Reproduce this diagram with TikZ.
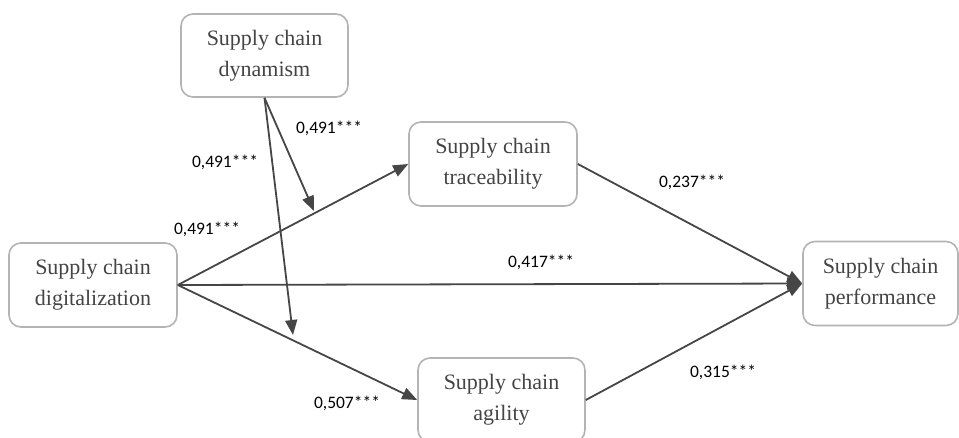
\documentclass[tikz,border=0pt]{standalone}
\usepackage{fontspec}
\setmainfont{Liberation Serif}
\newfontfamily\labelfont{Carlito}
\usetikzlibrary{arrows.meta}
\definecolor{boxline}{HTML}{B4B4B4}
\definecolor{boxtext}{HTML}{444444}
\definecolor{pathline}{HTML}{464646}
\tikzset{
  construct/.style={draw=boxline, line width=1.6pt, rounded corners=12pt,
    align=center, text=boxtext, font=\fontsize{22}{31}\selectfont,
    inner sep=0pt},
  path arrow/.style={draw=pathline, line width=1.8pt,
    -{Triangle[length=15pt,width=12pt]}},
  coef/.style={font=\labelfont\fontsize{17.5}{20}\selectfont, text=black, inner sep=0pt}
}
\begin{document}
\begin{tikzpicture}[x=1pt,y=-1pt]
\clip (0,0) rectangle (959,437);
\fill[white] (0,0) rectangle (959,437);

% constructs
\node[construct, minimum width=167pt, minimum height=83pt] (dyn) at (264.5,55.5) {Supply chain\\dynamism};
\node[construct, minimum width=168pt, minimum height=84pt] (tra) at (493,164) {Supply chain\\traceability};
\node[construct, minimum width=168pt, minimum height=84pt] (dig) at (93,285) {Supply chain\\digitalization};
\node[construct, minimum width=155pt, minimum height=84pt] (per) at (880.5,283.5) {Supply chain\\performance};
\node[construct, minimum width=167pt, minimum height=84pt] (agi) at (501.5,400) {Supply chain\\agility};

% moderation targets on the direct paths
\coordinate (modT) at (314,211);
\coordinate (modA) at (293,335);

% direct paths
\draw[path arrow] (dig.east) -- (tra.west);
\draw[path arrow] (dig.east) -- (agi.west);
\draw[path arrow] (dig.east) -- (per.west);
\draw[path arrow] (tra.east) -- (per.west);
\draw[path arrow] (agi.east) -- (per.west);

% moderating paths
\draw[path arrow] (dyn.south) -- (modT);
\draw[path arrow] (dyn.south) -- (modA);

% coefficients
\node[coef] (c1) at (329,128) {0,491***};
\node[coef] (c2) at (225,162) {0,491***};
\node[coef] (c3) at (207,229) {0,491***};
\node[coef] (c4) at (692,182) {0,237***};
\node[coef] (c5) at (541,262) {0,417***};
\node[coef] (c6) at (723,372) {0,315***};
\node[coef] (c7) at (347,403) {0,507***};
\end{tikzpicture}
\end{document}
